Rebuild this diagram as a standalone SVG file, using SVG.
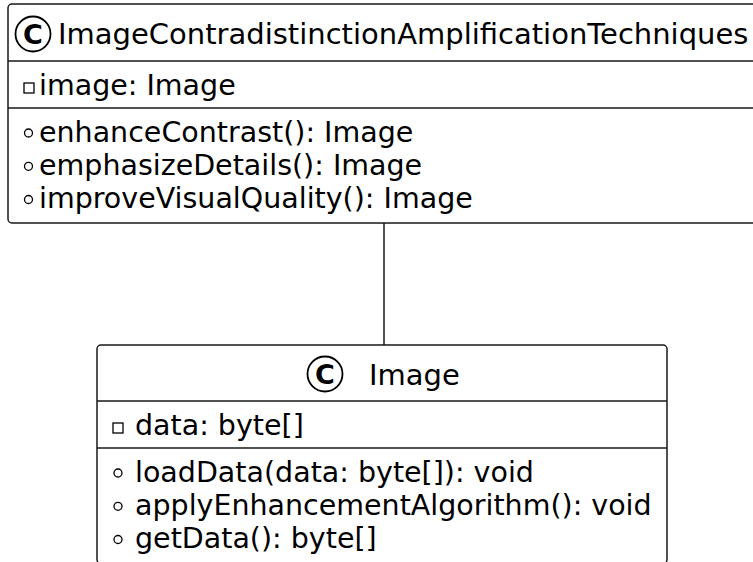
<svg xmlns="http://www.w3.org/2000/svg" width="753" height="562" viewBox="0 0 753 562">
<style>
.box{fill:#ffffff;stroke:#181818;stroke-width:1.5}
.sep{stroke:#181818;stroke-width:1.5}
.t{font-family:"DejaVu Sans",sans-serif;font-size:28.5px;fill:#000000}
.h{font-family:"DejaVu Sans",sans-serif;font-size:29px;fill:#000000}
.ic{fill:none;stroke:#000000;stroke-width:1.3}
.ci{fill:none;stroke:#000000;stroke-width:1.8}
.cl{font-family:"DejaVu Sans",sans-serif;font-size:27px;font-weight:bold;fill:#000000}
</style>
<rect width="753" height="562" fill="#ffffff"/>
<g id="connectors">
<line x1="384" y1="223" x2="384" y2="345" stroke="#181818" stroke-width="1.5"/>
</g>
<g id="node-ImageContradistinctionAmplificationTechniques">
<rect class="box" x="8" y="4" width="760" height="219" rx="4"/>
<line class="sep" x1="8" y1="61" x2="768" y2="61"/>
<line class="sep" x1="8" y1="108" x2="768" y2="108"/>
<circle class="ci" cx="33" cy="34" r="17.5"/>
<text class="cl" x="33" y="43.5" text-anchor="middle">C</text>
<text class="h" x="58" y="44">ImageContradistinctionAmplificationTechniques</text>
<rect class="ic" x="24" y="83" width="10" height="10"/>
<text class="t" x="39" y="95">image: Image</text>
<circle class="ic" cx="28.5" cy="133" r="4"/>
<text class="t" x="39" y="141.5">enhanceContrast(): Image</text>
<circle class="ic" cx="28.5" cy="166.3" r="4"/>
<text class="t" x="39" y="174.8">emphasizeDetails(): Image</text>
<circle class="ic" cx="28.5" cy="199.5" r="4"/>
<text class="t" x="39" y="208">improveVisualQuality(): Image</text>
</g>
<g id="node-Image">
<rect class="box" x="97" y="345" width="570" height="218.5" rx="4"/>
<line class="sep" x1="97" y1="401" x2="667" y2="401"/>
<line class="sep" x1="97" y1="448" x2="667" y2="448"/>
<circle class="ci" cx="325" cy="374" r="17.5"/>
<text class="cl" x="325" y="383.5" text-anchor="middle">C</text>
<text class="h" x="369" y="385">Image</text>
<rect class="ic" x="113" y="423" width="10" height="10"/>
<text class="t" x="135" y="435">data: byte[]</text>
<circle class="ic" cx="118" cy="473" r="4"/>
<text class="t" x="135" y="481.5">loadData(data: byte[]): void</text>
<circle class="ic" cx="118" cy="506.3" r="4"/>
<text class="t" x="135" y="514.8">applyEnhancementAlgorithm(): void</text>
<circle class="ic" cx="118" cy="539.5" r="4"/>
<text class="t" x="135" y="548">getData(): byte[]</text>
</g>
</svg>
